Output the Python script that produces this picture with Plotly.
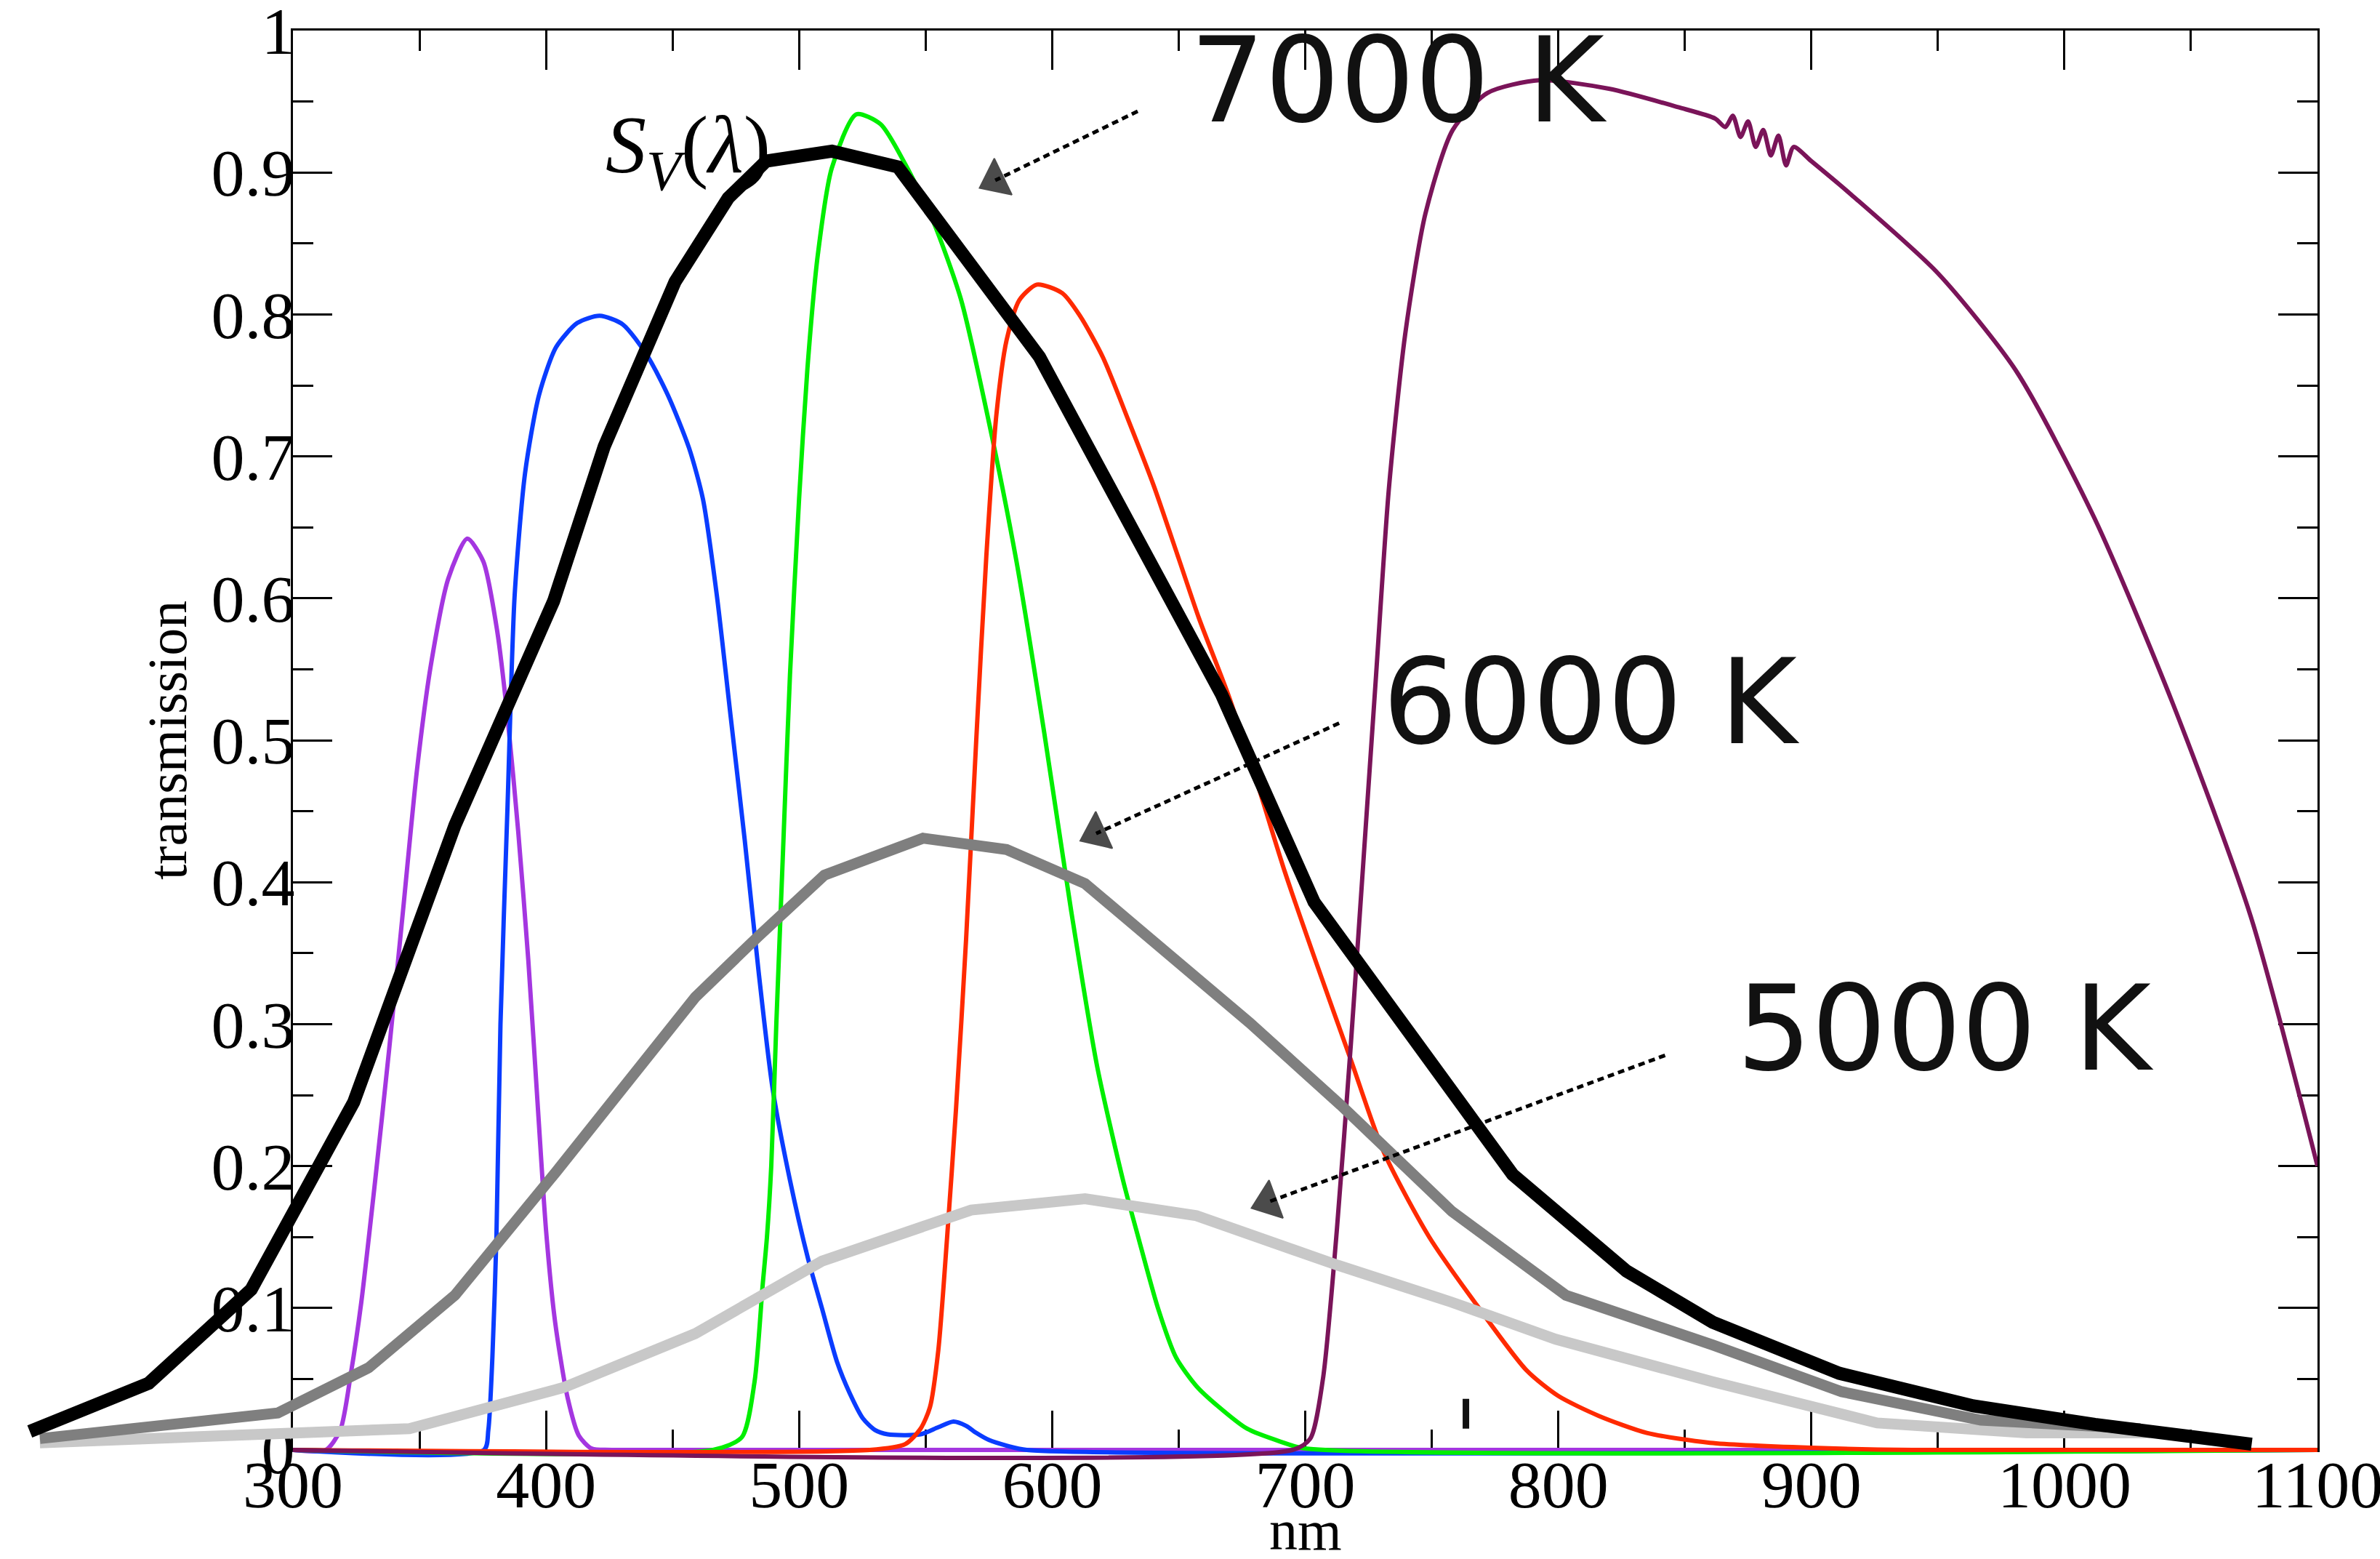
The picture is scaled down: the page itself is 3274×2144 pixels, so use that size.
import math
import plotly.graph_objects as go

# ---------------- data ----------------
# Filter transmission curves
u_nm = [300, 313, 318.7, 322.9, 327, 332.5, 338, 343.5, 349, 354.5, 361.4, 368.9, 375.2, 380.7, 384.8,
        389, 393, 397, 400, 403.6, 408.5, 413, 418, 426, 1100]
u_val = [0, 0, 0.014, 0.054, 0.104, 0.19, 0.282, 0.38, 0.479, 0.553, 0.614, 0.642, 0.626, 0.577, 0.516,
         0.436, 0.345, 0.235, 0.155, 0.09, 0.037, 0.01, 0.001, 0, 0]

b_nm = [300, 375.5, 377.2, 378.8, 380.4, 382, 384.8, 387.6, 391.7, 397.2, 404, 412.4, 421.2, 430.3, 440,
        448.2, 456.5, 462, 467.5, 473, 478.5, 484, 489.5, 496.4, 503.5, 509, 515, 520, 525.3, 530, 535, 548,
        555, 561, 566, 570, 575, 582, 590, 1100]
b_val = [0, 0, 0.014, 0.065, 0.15, 0.30, 0.454, 0.602, 0.688, 0.743, 0.777, 0.794, 0.799, 0.793, 0.771,
         0.743, 0.706, 0.67, 0.602, 0.516, 0.43, 0.337, 0.255, 0.19, 0.135, 0.1, 0.062, 0.04, 0.022, 0.014,
         0.011, 0.011, 0.016, 0.02, 0.017, 0.012, 0.007, 0.003, 0, 0]

v_nm = [300, 466, 477.4, 482.4, 485.6, 487.3, 489, 491, 493.7, 496.4, 500, 503.3, 507.4, 512.9, 522.6,
        532.2, 541.9, 552.9, 563.9, 574.9, 585.9, 596.9, 607.5, 617.8, 628, 634, 641.8, 649, 657, 665.4,
        677, 690, 700, 1100]
v_val = [0, 0, 0.009, 0.048, 0.116, 0.15, 0.2, 0.30, 0.424, 0.546, 0.67, 0.762, 0.842, 0.903, 0.941,
         0.934, 0.906, 0.866, 0.811, 0.725, 0.626, 0.505, 0.38, 0.27, 0.19, 0.15, 0.1, 0.065, 0.045, 0.031,
         0.015, 0.006, 0.001, 0]

r_nm = [300, 528, 541.9, 548, 551.7, 555, 558.5, 562, 566, 570, 574, 578, 582, 587, 594, 604, 611, 620,
        630, 640, 650, 658, 670, 681, 692, 705, 718, 731, 749, 767, 787.5, 800, 816, 835, 860, 900, 940, 1100]
r_val = [0, 0, 0.004, 0.015, 0.03, 0.07, 0.15, 0.24, 0.36, 0.5, 0.63, 0.73, 0.782, 0.81, 0.821, 0.815,
         0.799, 0.77, 0.726, 0.68, 0.628, 0.586, 0.53, 0.47, 0.407, 0.34, 0.275, 0.21, 0.15, 0.104, 0.056,
         0.038, 0.024, 0.012, 0.005, 0.0015, 0, 0]

i_nm = [300, 695, 702, 707, 712.5, 718, 723, 728, 733, 739.5, 747.5, 758.3, 772, 792.6, 820, 847.4,
        862, 866, 869, 872, 875, 878, 881, 884, 887, 890, 893, 900, 916, 950, 981, 1012, 1042.8, 1073.6, 1100]
i_val = [0, 0, 0.008, 0.05, 0.155, 0.285, 0.415, 0.546, 0.676, 0.786, 0.871, 0.93, 0.956, 0.965, 0.959, 0.946,
         0.938, 0.932, 0.940, 0.925, 0.936, 0.918, 0.930, 0.912, 0.926, 0.905, 0.918, 0.908, 0.884, 0.829, 0.76,
         0.656, 0.526, 0.376, 0.2]

# Blackbody curves (polylines pasted over the chart)
bb7000_nm = [196, 243, 283.5, 324, 364, 385, 403, 423, 451, 472, 487, 513, 539, 595, 630, 667, 703.5, 721,
             748, 782, 827, 861, 911, 964, 1012, 1074]
bb7000_val = [0.013, 0.047, 0.113, 0.245, 0.44, 0.528, 0.598, 0.707, 0.823, 0.882, 0.908, 0.915, 0.904, 0.770,
              0.656, 0.532, 0.386, 0.344, 0.279, 0.194, 0.126, 0.090, 0.054, 0.031, 0.018, 0.004]

bb6000_nm = [200, 294, 330, 364, 404, 459, 484, 510, 549, 582, 613, 678, 714, 758, 803, 861, 912, 967, 1030]
bb6000_val = [0.008, 0.026, 0.058, 0.109, 0.196, 0.319, 0.362, 0.405, 0.431, 0.423, 0.399, 0.301, 0.243,
              0.168, 0.109, 0.074, 0.041, 0.021, 0.015]

bb5000_nm = [200, 346, 407, 459, 509, 568, 613, 657, 713, 758, 799, 861, 926, 985, 1034]
bb5000_val = [0.005, 0.015, 0.044, 0.082, 0.133, 0.169, 0.177, 0.165, 0.130, 0.104, 0.078, 0.048, 0.019,
              0.012, 0.012]

# Labels and arrows
temp_labels = ["7000 K", "6000 K", "5000 K"]
label_nm = [737, 813, 953]
label_val = [0.9647, 0.5266, 0.2966]
arrow_tail_nm = [633.8, 713.4, 842.2]
arrow_tail_val = [0.9431, 0.512, 0.278]
arrow_tip_nm = [572.3, 612.1, 679.8]
arrow_tip_val = [0.8899, 0.430, 0.171]

sv_label = "<i>S</i><sub><i>V</i></sub>(<i>λ</i>)"
sv_nm, sv_val = 456, 0.915

mark_nm = [763.5, 763.5]
mark_val = [0.015, 0.036]

x_ticks = list(range(300, 1101, 100))
y_ticks = [0, 0.1, 0.2, 0.3, 0.4, 0.5, 0.6, 0.7, 0.8, 0.9, 1]
y_ticklabels = ["0", "0.1", "0.2", "0.3", "0.4", "0.5", "0.6", "0.7", "0.8", "0.9", "1"]

# ---------------- layout geometry ----------------
W, H = 3274, 2144
AX_L, AX_R, AX_T, AX_B = 403, 3188, 42, 1994   # frame of the main axes (px)
PLOT_L, PLOT_B = 22, 2034                      # outer area used by the overlay
X0, X1, Y0, Y1 = 300, 1100, 0, 1

pw = AX_R - PLOT_L
ph = PLOT_B - AX_T
xdom0 = (AX_L - PLOT_L) / pw
ydom0 = (PLOT_B - AX_B) / ph
px_per_nm = (AX_R - AX_L) / (X1 - X0)
px_per_val = (AX_B - AX_T) / (Y1 - Y0)
x2_range = [X0 - (AX_L - PLOT_L) / px_per_nm, X1]
y2_range = [Y0 - (PLOT_B - AX_B) / px_per_val, Y1]

fig = go.Figure()

filt_w = 6
for xs, ys, col in [(u_nm, u_val, "#a436e0"), (b_nm, b_val, "#0a3cff"), (v_nm, v_val, "#00ee00"),
                    (r_nm, r_val, "#ff2a00"), (i_nm, i_val, "#7a1459")]:
    fig.add_trace(go.Scatter(x=xs, y=ys, mode="lines",
                             line=dict(color=col, width=filt_w, shape="spline", smoothing=0.7),
                             xaxis="x2", yaxis="y2", showlegend=False, hoverinfo="skip"))

fig.add_trace(go.Scatter(x=mark_nm, y=mark_val, mode="lines", line=dict(color="#111111", width=9),
                         xaxis="x2", yaxis="y2", showlegend=False, hoverinfo="skip"))

for xs, ys, col, w in [(bb5000_nm, bb5000_val, "#c8c8c8", 15), (bb6000_nm, bb6000_val, "#7f7f7f", 15),
                       (bb7000_nm, bb7000_val, "#000000", 18)]:
    fig.add_trace(go.Scatter(x=xs, y=ys, mode="lines", line=dict(color=col, width=w),
                             xaxis="x2", yaxis="y2", showlegend=False, hoverinfo="skip"))

HEAD = 48
for k in range(3):
    # place the triangle so that its tip lands on the arrow tip
    dx = (arrow_tail_nm[k] - arrow_tip_nm[k]) * px_per_nm
    dy = (arrow_tail_val[k] - arrow_tip_val[k]) * px_per_val
    ln = math.hypot(dx, dy)
    off = HEAD * 0.42
    cx = arrow_tip_nm[k] + dx / ln * off / px_per_nm
    cy = arrow_tip_val[k] + dy / ln * off / px_per_val
    fig.add_trace(go.Scatter(
        x=[arrow_tail_nm[k], cx], y=[arrow_tail_val[k], cy],
        mode="lines+markers", line=dict(color="#000000", width=5, dash="9px,6px"),
        marker=dict(symbol=["circle", "triangle-up"], size=[0, HEAD], color="#000000",
                    angleref="previous", line=dict(width=2, color="#000000")),
        xaxis="x2", yaxis="y2", showlegend=False, hoverinfo="skip"))

# invisible trace so the main axes exist
fig.add_trace(go.Scatter(x=[X0, X1], y=[Y0, Y1], mode="markers", marker=dict(opacity=0),
                         xaxis="x", yaxis="y", showlegend=False, hoverinfo="skip"))

tickfont = dict(family="Liberation Serif", size=92, color="black")
axis_common = dict(showline=True, linecolor="black", linewidth=3, mirror="ticks", ticks="inside",
                   tickwidth=3, ticklen=54, tickcolor="black", showgrid=False, zeroline=False,
                   tickfont=tickfont, automargin=False, ticklabeloverflow="allow")

fig.update_layout(
    width=W, height=H,
    margin=dict(l=PLOT_L, r=W - AX_R, t=AX_T, b=H - PLOT_B, pad=0, autoexpand=False),
    paper_bgcolor="white", plot_bgcolor="rgba(0,0,0,0)",
    xaxis=dict(domain=[xdom0, 1], range=[X0, X1], anchor="y", tickvals=x_ticks,
               minor=dict(dtick=50, ticklen=28, tickwidth=3, ticks="inside", tickcolor="black"),
               ticklabelstandoff=-34, **axis_common),
    yaxis=dict(domain=[ydom0, 1], range=[Y0, Y1], anchor="x", tickvals=y_ticks, ticktext=y_ticklabels,
               minor=dict(dtick=0.05, ticklen=28, tickwidth=3, ticks="inside", tickcolor="black"),
               ticklabelstandoff=-24, **axis_common),
    xaxis2=dict(domain=[0, 1], range=x2_range, anchor="y2", visible=False, automargin=False),
    yaxis2=dict(domain=[0, 1], range=y2_range, anchor="x2", visible=False, automargin=False),
    showlegend=False,
)

for txt, xv, yv in zip(temp_labels, label_nm, label_val):
    fig.add_annotation(x=xv, y=yv, xref="x2", yref="y2", text=txt, showarrow=False,
                       font=dict(family="DejaVu Sans", size=162, color="#111111"),
                       xanchor="center", yanchor="middle")

fig.add_annotation(x=sv_nm, y=sv_val, xref="x2", yref="y2", text=sv_label, showarrow=False,
                   font=dict(family="Liberation Serif", size=112, color="black"),
                   xanchor="center", yanchor="middle")

# axis titles
fig.add_annotation(x=(230 - PLOT_L) / pw, y=(PLOT_B - 1018) / ph, xref="paper", yref="paper",
                   text="transmission", textangle=-90, showarrow=False,
                   font=dict(family="Liberation Serif", size=76, color="black"),
                   xanchor="center", yanchor="middle")
fig.add_annotation(x=(1796 - PLOT_L) / pw, y=(PLOT_B - 2104) / ph, xref="paper", yref="paper",
                   text="nm", showarrow=False,
                   font=dict(family="Liberation Serif", size=78, color="black"),
                   xanchor="center", yanchor="middle")

fig.write_html("out.html")
